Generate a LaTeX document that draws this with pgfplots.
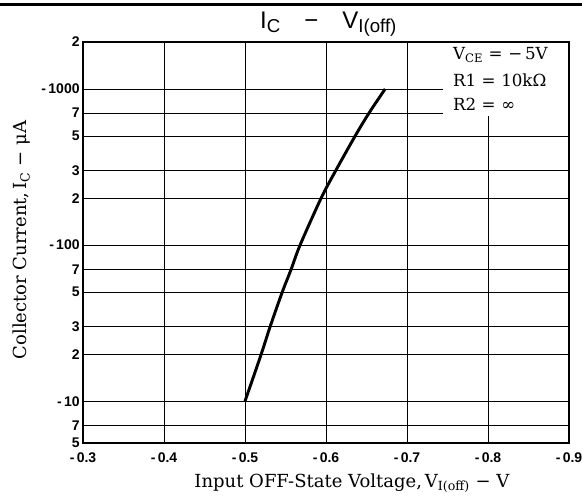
\documentclass[border=0pt]{standalone}
\usepackage{fontspec}
\setmainfont{DejaVu Serif}
\newfontfamily\sansf{Liberation Sans}
\usepackage{pgfplots}
\pgfplotsset{compat=1.18}
\begin{document}
\begin{tikzpicture}[x=1pt,y=1pt]
\useasboundingbox (-62.25,-42.75) rectangle (374.25,332.25);
\draw[line width=2.2pt] (-62.25,328.6) -- (374.25,328.6);
\begin{axis}[
  at={(0,0)}, anchor=south west, scale only axis,
  width=364.5pt, height=300.75pt,
  xmin=-0.9, xmax=-0.3, x dir=reverse,
  ymode=log, ymin=5.4, ymax=2000,
  xtick={-0.3,-0.4,-0.5,-0.6,-0.7,-0.8,-0.9},
  xticklabels={-\,0.3,-\,0.4,-\,0.5,-\,0.6,-\,0.7,-\,0.8,-\,0.9},
  ytick={5.4,7,20,30,50,70,200,300,500,700,2000},
  yticklabels={5,7,2,3,5,7,2,3,5,7,2},
  extra y ticks={10,100,1000},
  extra y tick labels={-\,10,-\,100,-\,1000},
  extra y tick style={grid style={black,line width=1.1pt}},
  grid=major,
  major grid style={black,line width=0.7pt},
  major tick length=0pt, minor tick length=0pt,
  axis line style={black,line width=1.1pt},
  tick label style={font=\sansf\bfseries\fontsize{10.5}{11}\selectfont},
  xticklabel style={yshift=-4pt},
  yticklabel style={xshift=1pt},
]
\addplot[black, line width=2.2pt, smooth] coordinates {
 (-0.500,10) (-0.520,20) (-0.531,30) (-0.546,50) (-0.557,70) (-0.568,100)
 (-0.594,200) (-0.612,300) (-0.636,500) (-0.653,700) (-0.673,1000)};
\end{axis}
\fill[white] (270,245.25) rectangle (364,300.2);
\draw[line width=1.1pt] (0,0) rectangle (364.5,300.75);
\node[anchor=west, font=\fontsize{12.5}{13}\selectfont] at (274,291) {V\textsubscript{CE}\,\,=\,\,−\,5V};
\node[anchor=west, font=\fontsize{12.5}{13}\selectfont] at (274,272) {R1\,\,=\,\,10kΩ};
\node[anchor=west, font=\fontsize{12.5}{13}\selectfont] at (274,254) {R2\,\,=\,\,∞};
\node[font=\sansf\fontsize{18}{19}\selectfont] at (184,314) {I\raisebox{-2.5pt}{\fontsize{14}{14}\selectfont C}\hspace{18pt}−\hspace{18pt}V\raisebox{-2.5pt}{\fontsize{14}{14}\selectfont I(off)}};
\node[font=\fontsize{13.5}{14}\selectfont] at (201.75,-30) {Input OFF-State Voltage,\,V\textsubscript{I(off)} − V};
\node[rotate=90, font=\fontsize{13.5}{14}\selectfont] at (-46,152.25) {Collector Current,\,I\textsubscript{C} − μA};
\end{tikzpicture}
\end{document}
